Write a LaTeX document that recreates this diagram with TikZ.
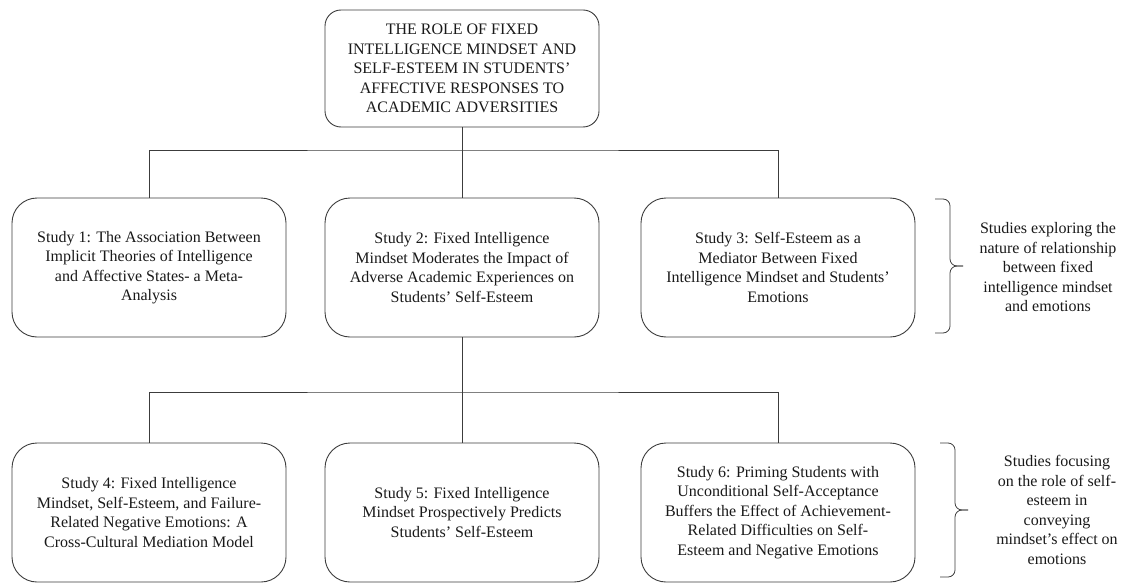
\documentclass[tikz,border=0pt]{standalone}
\usepackage{fontspec}
\setmainfont{Liberation Serif}
\usetikzlibrary{
    positioning
}
\definecolor{lineblack}{RGB}{60,60,60}
\definecolor{textblack}{RGB}{25,25,25}

\begin{document}
\begin{tikzpicture}[x=1pt, y=-1pt,
        every node/.style={text=textblack, font=\fontsize{16}{19.5}\selectfont},
        studybox/.style={draw=lineblack, line width=0.9pt, rounded corners=25pt,
            minimum width=274pt, minimum height=139pt, align=center, inner sep=4pt},
        titlebox/.style={studybox, rounded corners=16pt, minimum height=117pt},
        link/.style={draw=lineblack, line width=0.9pt},
        groupbrace/.style={draw=lineblack, line width=0.8pt, rounded corners=7pt},
        bracenote/.style={align=center}]

    \useasboundingbox (0,0) rectangle (1131,583);

    % title
    \node[titlebox] (title) at (462,68.5) {THE ROLE OF FIXED\\INTELLIGENCE MINDSET AND\\SELF-ESTEEM IN STUDENTS'\\AFFECTIVE RESPONSES TO\\ACADEMIC ADVERSITIES};

    % first row of studies
    \node[studybox] (s1) at (149,267.5) {Study 1: The Association Between\\Implicit Theories of Intelligence\\and Affective States- a Meta-\\Analysis};
    \node[studybox] (s2) at (462,267.5) {Study 2: Fixed Intelligence\\Mindset Moderates the Impact of\\Adverse Academic Experiences on\\Students' Self-Esteem};
    \node[studybox] (s3) at (778,267.5) {Study 3: Self-Esteem as a\\Mediator Between Fixed\\Intelligence Mindset and Students'\\Emotions};

    % second row of studies
    \node[studybox] (s4) at (149,512.5) {Study 4: Fixed Intelligence\\Mindset, Self-Esteem, and Failure-\\Related Negative Emotions: A\\Cross-Cultural Mediation Model};
    \node[studybox] (s5) at (462,512.5) {Study 5: Fixed Intelligence\\Mindset Prospectively Predicts\\Students' Self-Esteem};
    \node[studybox] (s6) at (778,512.5) {Study 6: Priming Students with\\Unconditional Self-Acceptance\\Buffers the Effect of Achievement-\\Related Difficulties on Self-\\Esteem and Negative Emotions};

    % connectors
    \coordinate (j1) at (462,150);
    \coordinate (j2) at (462,392);
    \draw[link] (title.south) -- (j1);
    \draw[link] (s1.north) |- (j1) -| (s3.north);
    \draw[link] (j1) -- (s2.north);
    \draw[link] (s2.south) -- (j2);
    \draw[link] (s4.north) |- (j2) -| (s6.north);
    \draw[link] (j2) -- (s5.north);

    % braces and notes
    \coordinate (b1top) at (935,199);
    \coordinate (b1bot) at (935,333);
    \coordinate (b1tip) at (963,266);
    \coordinate (b2top) at (940,443);
    \coordinate (b2bot) at (940,577);
    \coordinate (b2tip) at (968,510);
    \draw[groupbrace] (b1top) -- ++(15,0) |- (b1tip);
    \draw[groupbrace] (b1bot) -- ++(15,0) |- (b1tip);
    \draw[groupbrace] (b2top) -- ++(15,0) |- (b2tip);
    \draw[groupbrace] (b2bot) -- ++(15,0) |- (b2tip);
    \node[bracenote] (n1) at (1048,267.5) {Studies exploring the\\nature of relationship\\between fixed\\intelligence mindset\\and emotions};
    \node[bracenote] (n2) at (1057,510) {Studies focusing\\on the role of self-\\esteem in\\conveying\\mindset's effect on\\emotions};
\end{tikzpicture}
\end{document}
